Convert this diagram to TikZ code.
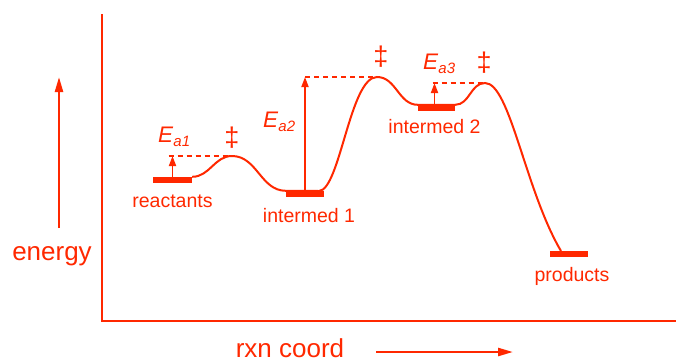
\documentclass[tikz,border=0pt]{standalone}
\usepackage{fontspec}
\setmainfont{Liberation Sans}
\usetikzlibrary{arrows.meta,positioning}
\definecolor{rxnred}{RGB}{255,40,0}
\newcommand{\Ea}[1]{\textit{E}\raisebox{-4.5pt}{\fontsize{15}{15}\selectfont\itshape a#1}}

\begin{document}
\begin{tikzpicture}[x=1pt, y=1pt,
    every node/.style={text=rxnred, inner sep=0pt},
    axis/.style={draw=rxnred, line width=2pt},
    level/.style={rectangle, fill=rxnred, minimum width=38pt, minimum height=6pt},
    curve/.style={draw=rxnred, line width=2pt},
    ea/.style={draw=rxnred, line width=1.8pt, -{Triangle[length=10pt, width=7pt]}},
    dir/.style={draw=rxnred, line width=2.4pt, -{Triangle[length=15pt, width=8pt]}},
    guide/.style={draw=rxnred, line width=1.5pt, dash pattern=on 5pt off 4pt},
    big/.style={font=\fontsize{26}{26}\selectfont, anchor=base},
    lab/.style={font=\fontsize{19.5}{20}\selectfont, anchor=base},
    elab/.style={font=\fontsize{22.5}{23}\selectfont, anchor=base west},
    ddag/.style={font=\fontsize{27}{27}\selectfont}
  ]
  \useasboundingbox (0,0) rectangle (676,-362);

  %% Axes
  \coordinate (ytop) at (102,-14);
  \coordinate (origin) at (102,-321);
  \coordinate (xend) at (676,-321);
  \draw[axis] (ytop) -- (origin) -- (xend);

  %% Axis labels
  \coordinate (e0) at (59,-228);
  \coordinate (e1) at (59,-77);
  \draw[dir] (e0) -- (e1);
  \node[big] (energy) at (52,-260) {energy};
  \node[big] (rxn) at (290,-357.5) {rxn coord};
  \coordinate (r0) at (376,-352);
  \coordinate (r1) at (513,-352);
  \draw[dir] (r0) -- (r1);

  %% Energy levels
  \node[level, minimum width=39pt] (react) at (172.5,-180) {};
  \node[level] (im1) at (305,-194) {};
  \node[level, minimum width=37pt] (im2) at (436.5,-108) {};
  \node[level] (prod) at (569,-254) {};

  \node[lab] (reactlab) at ([yshift=-27pt]react.center) {reactants};
  \node[lab] (im1lab) at ([xshift=4pt, yshift=-28pt]im1.center) {intermed 1};
  \node[lab] (im2lab) at ([xshift=-2pt, yshift=-25pt]im2.center) {intermed 2};
  \node[lab] (prodlab) at ([xshift=3pt, yshift=-27pt]prod.center) {products};

  %% Transition states
  \coordinate (ts1) at (232,-156);
  \coordinate (ts2) at (377,-77);
  \coordinate (ts3) at (485,-83);
  \coordinate (rise) at (319,-191);
  \coordinate (pend) at (561,-251);

  \draw[curve] (react.north east) to[out=0, in=180] (ts1)
    to[out=0, in=180] (im1.north west) -- (rise)
    .. controls +(21,1) and +(-27,0) .. (ts2)
    to[out=0, in=180] (im2.north west) -- (im2.north east)
    to[out=0, in=180] (ts3)
    .. controls +(25,0) and +(-36,61) .. (pend);

  \node[ddag] (dd1) at (232,-138) {‡};
  \node[ddag] (dd2) at (381,-57) {‡};
  \node[ddag] (dd3) at (484,-63) {‡};

  %% Activation energies
  \draw[guide] ([xshift=-4pt]react.north |- ts1) -- (ts1);
  \draw[ea] (react.north) -- (react.north |- ts1);
  \node[elab] (ea1) at (158,-142) {\Ea{1}};

  \draw[guide] (im1.north |- ts2) -- (ts2);
  \draw[ea] (im1.north) -- (im1.north |- ts2);
  \node[elab] (ea2) at (263,-127) {\Ea{2}};

  \draw[guide] ([xshift=-4pt]im2.north |- ts3) -- (ts3);
  \draw[ea] ([xshift=-2pt]im2.north) -- ([xshift=-2pt]im2.north |- ts3);
  \node[elab] (ea3) at (423,-69) {\Ea{3}};

\end{tikzpicture}
\end{document}
